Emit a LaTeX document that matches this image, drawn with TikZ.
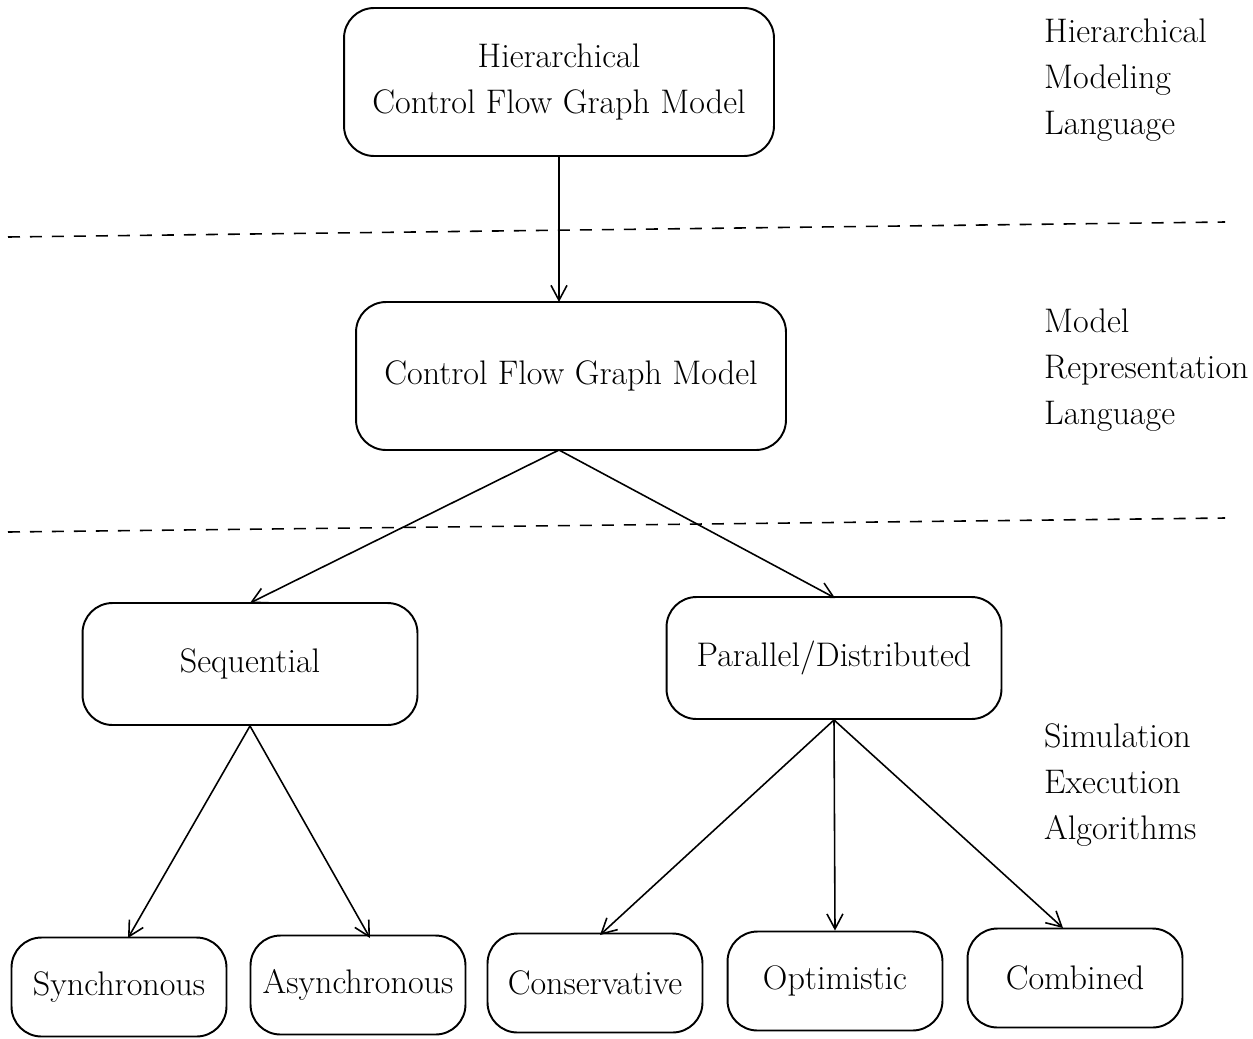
\documentclass[tikz,border=0pt]{standalone}
\usepackage{tikz}
\usetikzlibrary{arrows.meta}

\begin{document}
\begin{tikzpicture}[
    x=0.02cm, y=-0.02cm,
    every node/.style={font=\fontsize{19.4}{26}\selectfont},
    box/.style={draw, line width=1.1pt, rounded corners=0.6cm, align=center, inner sep=0pt},
    bigbox/.style={box, minimum width=8.6cm, minimum height=2.96cm},
    midbox/.style={box, minimum width=6.7cm, minimum height=2.44cm},
    leafbox/.style={box, minimum width=4.3cm, minimum height=1.98cm},
    layer/.style={anchor=west, align=left},
    arr/.style={-{Straight Barb[length=3mm, width=3.2mm]}, line width=0.9pt},
    sep/.style={line width=0.9pt, dash pattern=on 0.24cm off 0.2cm}
  ]
    \useasboundingbox (0,0) rectangle (1253,1038);
    % models
    \node[bigbox] (hcfg) at (559,82) {Hierarchical\\Control Flow Graph Model};
    \node[bigbox] (cfg) at (571,376) {Control Flow Graph Model};
    % algorithms
    \node[midbox] (seq) at (250,664) {Sequential};
    \node[midbox] (par) at (834,658) {Parallel/Distributed};
    \node[leafbox] (sync) at (119,987) {Synchronous};
    \node[leafbox] (async) at (358,985) {Asynchronous};
    \node[leafbox] (cons) at (595,983) {Conservative};
    \node[leafbox] (opt) at (835,981) {Optimistic};
    \node[leafbox] (comb) at (1075,978) {Combined};
    % layer names
    \node[layer] (lang1) at (1038,80) {Hierarchical\\Modeling\\Language};
    \node[layer] (lang2) at (1038,370) {Model\\Representation\\Language};
    \node[layer] (lang3) at (1038,785) {Simulation\\Execution\\Algorithms};
    % separators
    \draw[sep] (8,237) -- (1225,222);
    \draw[sep] (8,532) -- (1225,518);
    % flow
    \draw[arr] (hcfg.south) -- (559,302);
    \draw[arr] (559,450) -- (250,603);
    \draw[arr] (559,450) -- (835,598);
    \draw[arr] (seq.south) -- (128,938);
    \draw[arr] (seq.south) -- (370,938);
    \draw[arr] (par.south) -- (600,935);
    \draw[arr] (par.south) -- (opt.north);
    \draw[arr] (par.south) -- (1063,928);
  \end{tikzpicture}
\end{document}
